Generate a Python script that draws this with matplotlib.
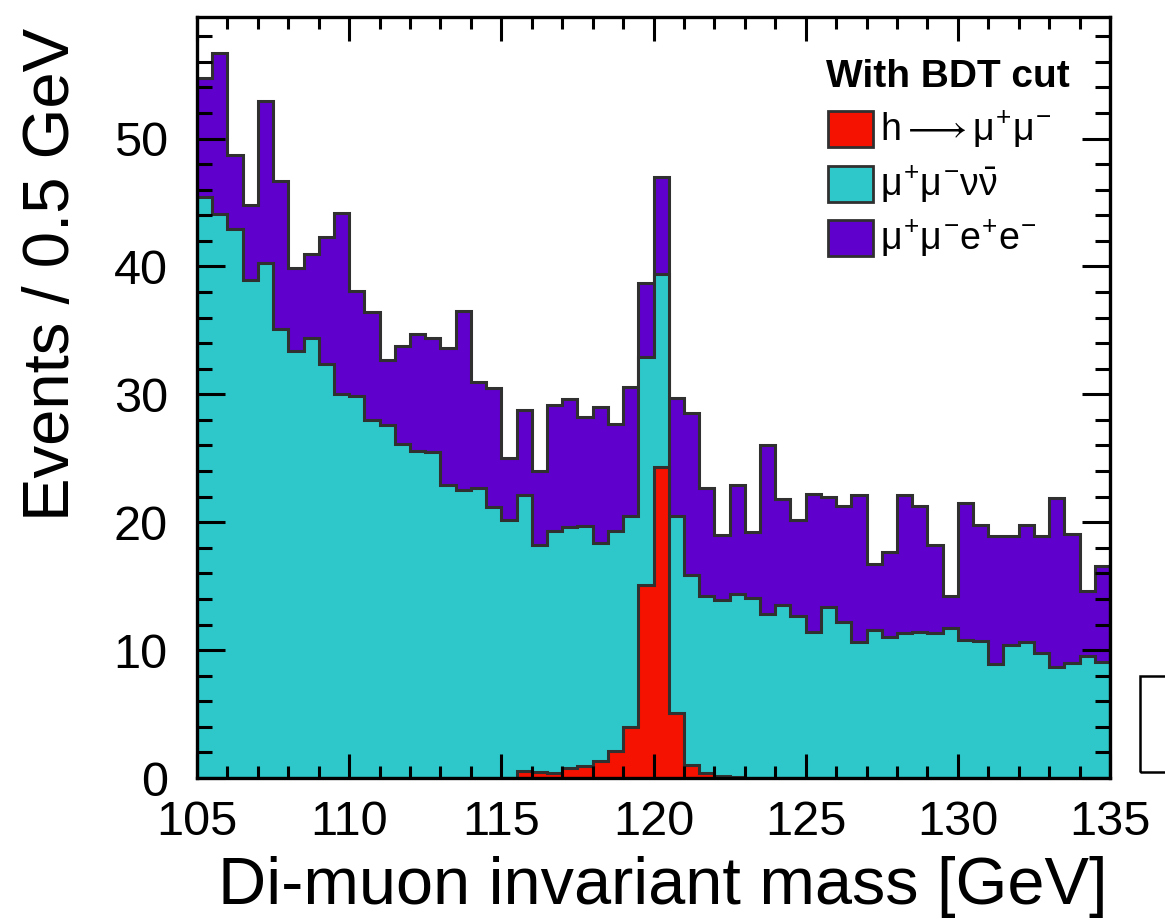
import numpy as np
import matplotlib
matplotlib.use("Agg")
import matplotlib.pyplot as plt
from matplotlib.patches import Rectangle
from matplotlib.ticker import MultipleLocator

plt.rcParams['font.family'] = ['Liberation Sans', 'DejaVu Sans']
plt.rcParams['mathtext.fontset'] = 'custom'
plt.rcParams['mathtext.rm'] = 'Liberation Sans'
plt.rcParams['mathtext.it'] = 'Liberation Sans'
plt.rcParams['mathtext.bf'] = 'Liberation Sans:bold'

# Binning: 60 bins of 0.5 GeV from 105 to 135 GeV
bin_edges = np.linspace(105.0, 135.0, 61)

# Events per bin for each process
signal_hmumu = [
    0, 0, 0, 0, 0, 0, 0, 0, 0, 0,
    0, 0, 0, 0, 0, 0, 0, 0, 0, 0,
    0, 0.55, 0.5, 0.4, 0.75, 0.95, 1.3, 2.1, 4.0, 15.1,
    24.3, 5.1, 1.0, 0.4, 0.15, 0.1, 0, 0, 0, 0,
    0, 0, 0, 0, 0, 0, 0, 0, 0, 0,
    0, 0, 0, 0, 0, 0, 0, 0, 0, 0,
]
bkg_mumununu = [
    45.4, 44.1, 42.9, 38.9, 40.3, 35.1, 33.4, 34.4, 32.4, 30.0,
    29.9, 28.0, 27.6, 26.1, 25.6, 25.5, 22.9, 22.5, 22.7, 21.2,
    20.2, 21.55, 17.7, 18.9, 18.85, 18.75, 17.1, 17.2, 16.5, 17.8,
    15.1, 15.4, 14.9, 13.8, 13.75, 14.3, 14.1, 12.8, 13.5, 12.7,
    11.4, 13.4, 12.2, 10.6, 11.6, 11.0, 11.3, 11.4, 11.3, 11.7,
    10.8, 10.7, 8.9, 10.4, 10.6, 9.8, 8.7, 9.0, 9.5, 9.1,
]
bkg_mumuee = [
    9.3, 12.6, 5.8, 5.9, 12.6, 11.6, 6.5, 6.6, 9.9, 14.2,
    8.2, 8.4, 5.1, 7.7, 9.1, 8.9, 10.7, 14.0, 8.3, 9.3,
    4.8, 6.7, 5.8, 9.9, 10.0, 8.5, 10.6, 8.4, 10.1, 5.8,
    7.6, 9.2, 12.6, 8.5, 5.1, 8.5, 5.1, 13.2, 8.3, 7.5,
    10.8, 8.6, 9.1, 11.5, 5.1, 6.7, 10.8, 9.9, 6.9, 2.5,
    10.7, 9.1, 10.0, 8.5, 9.2, 9.1, 13.2, 10.1, 5.1, 7.5,
]

legend_title = "With BDT cut"
labels = [r"$h\longrightarrow\mu^{+}\mu^{-}$",
          r"$\mu^{+}\mu^{-}\nu\bar{\nu}$",
          r"$\mu^{+}\mu^{-}e^{+}e^{-}$"]
colors = ["#f51200", "#2ec8ca", "#5f00cc"]
edge_col = "#303030"

W, H = 1165, 921
fig = plt.figure(figsize=(W / 100, H / 100), dpi=100)
fig.patch.set_facecolor("white")

ax_left, ax_right, ax_bottom, ax_top = 197, 1110, 778, 17
ax = fig.add_axes([ax_left / W, 1 - ax_bottom / H,
                   (ax_right - ax_left) / W, (ax_bottom - ax_top) / H])

# Stacked histogram: each layer drawn filled from zero at its cumulative height
s = np.array(signal_hmumu, dtype=float)
c = np.array(bkg_mumununu, dtype=float)
p = np.array(bkg_mumuee, dtype=float)
stack = [s, s + c, s + c + p]
for level, col in zip(reversed(stack), reversed(colors)):
    ax.stairs(level, bin_edges, fill=True, facecolor=col,
              edgecolor=edge_col, linewidth=2.2, baseline=0)

ax.set_xlim(105, 135)
ax.set_ylim(0, 59.5)
ax.xaxis.set_major_locator(MultipleLocator(5))
ax.xaxis.set_minor_locator(MultipleLocator(1))
ax.yaxis.set_major_locator(MultipleLocator(10))
ax.yaxis.set_minor_locator(MultipleLocator(2))
ax.tick_params(which='both', direction='in', top=True, right=True,
               width=2.2, color='black', labelsize=35)
ax.tick_params(axis='x', which='major', length=17, pad=16)
ax.tick_params(axis='x', which='minor', length=8.5)
ax.tick_params(axis='y', which='major', length=20, pad=21)
ax.tick_params(axis='y', which='minor', length=11)
for sp in ax.spines.values():
    sp.set_linewidth(2.4)
    sp.set_zorder(5)

fig.text(1108 / W, 1 - 904 / H, "Di-muon invariant mass [GeV]",
         ha='right', va='baseline', fontsize=48)
fig.text(52 / W, 1 - 28 / H, "Events / 0.5 GeV", rotation=90,
         ha='center', va='top', fontsize=47)

# Legend
fig.text(826 / W, 1 - 77 / H, legend_title, ha='left', va='center',
         fontsize=28, fontweight='bold')
row_y = [129, 184, 238]
for yc, lab, col in zip(row_y, labels, colors):
    fig.patches.append(Rectangle((828 / W, 1 - (yc + 18) / H), 45 / W, 36 / H,
                                 facecolor=col, edgecolor=edge_col,
                                 linewidth=2.0, transform=fig.transFigure))
    fig.text(880 / W, 1 - yc / H, lab, ha='left', va='center', fontsize=27)

# Partial frame at the lower right edge
fig.patches.append(Rectangle((1140 / W, 1 - 772 / H), 60 / W, 96 / H,
                             fill=False, edgecolor='black', linewidth=1.8,
                             transform=fig.transFigure))

fig.savefig("out.png", dpi=100)
